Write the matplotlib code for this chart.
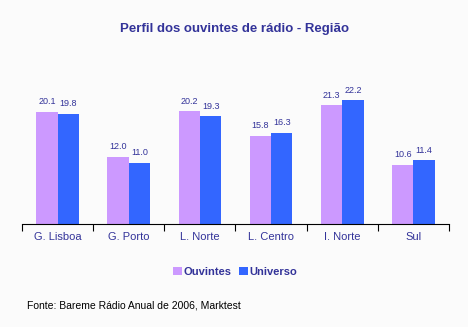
import numpy as np
import matplotlib
matplotlib.use("Agg")
import matplotlib.pyplot as plt

plt.rcParams['font.family'] = ['Liberation Sans', 'DejaVu Sans']

regioes = ["G. Lisboa", "G. Porto", "L. Norte", "L. Centro", "I. Norte", "Sul"]
ouvintes = [20.1, 12.0, 20.2, 15.8, 21.3, 10.6]
universo = [19.8, 11.0, 19.3, 16.3, 22.2, 11.4]

navy = "#333399"
bg = "#FBFBFB"

fig = plt.figure(figsize=(4.68, 3.27), dpi=100, facecolor=bg)
ax = fig.add_axes([22 / 468, 1 - 224 / 327, 427 / 468, 154 / 327])
ax.set_facecolor(bg)

x = np.arange(len(regioes))
w = 0.3
b1 = ax.bar(x - w / 2, ouvintes, w, color="#CC99FF", label="Ouvintes")
b2 = ax.bar(x + w / 2, universo, w, color="#3366FF", label="Universo")

for bars, vals in [(b1, ouvintes), (b2, universo)]:
    for r, v in zip(bars, vals):
        ax.text(r.get_x() + r.get_width() / 2, v + 1.0, f"{v:.1f}",
                ha="center", va="bottom", fontsize=6.5, color=navy)

ax.set_xlim(-0.5, len(regioes) - 0.5)
ax.set_ylim(0, 27.6)
for s in ["top", "right", "left"]:
    ax.spines[s].set_visible(False)
ax.spines["bottom"].set_color("black")
ax.set_yticks([])
ax.set_xticks(np.arange(len(regioes) + 1) - 0.5)
ax.set_xticklabels([])
ax.set_xticks(x, minor=True)
ax.set_xticklabels(regioes, minor=True, fontsize=8, color=navy)
ax.tick_params(axis="x", which="major", length=5, direction="out", color="black")
ax.tick_params(axis="x", which="minor", length=0, pad=6)

fig.text(0.5, 1 - 29 / 327, "Perfil dos ouvintes de rádio - Região", ha="center",
         va="center", fontsize=9.5, fontweight="bold", color=navy)

leg = fig.legend(handles=[b1, b2], loc="center", bbox_to_anchor=(235 / 468, 1 - 272 / 327),
                 ncol=2, frameon=False, handlelength=0.8, handleheight=0.8,
                 handletextpad=0.1, columnspacing=0.7,
                 prop={"weight": "bold", "size": 8})
for t in leg.get_texts():
    t.set_color(navy)

fig.text(27 / 468, 1 - 305 / 327, "Fonte: Bareme Rádio Anual de 2006, Marktest",
         ha="left", va="center", fontsize=7.5, color="black")

fig.savefig("out.png", dpi=100, facecolor=bg)
